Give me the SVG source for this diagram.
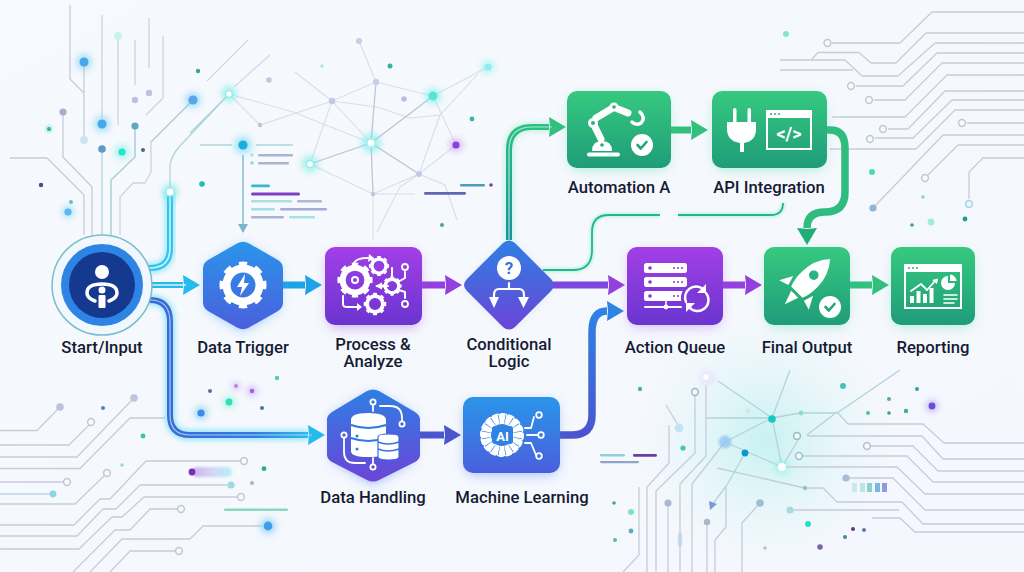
<svg xmlns="http://www.w3.org/2000/svg" width="1024" height="572" viewBox="0 0 1024 572">
<style>
.lbl{font-family:Roboto,"Liberation Sans",sans-serif;font-weight:500;font-size:16.7px;fill:#151b33;text-anchor:middle}
.ic{font-family:Roboto,"Liberation Sans",sans-serif;font-weight:700;text-anchor:middle}
.c{fill:none;stroke:#c6ccda;stroke-width:1.3;stroke-linejoin:round}
.t{fill:none;stroke:#b2d4dc;stroke-width:1.3}
.n{fill:none;stroke:#d8deeb;stroke-width:1.1}
.n2{fill:none;stroke:#c0c4da;stroke-width:1.3}
.ring{fill:#f6f9fe;stroke:#c0c8d6;stroke-width:1.5}
.w{fill:#fff}
.ws{fill:none;stroke:#fff;stroke-linecap:round;stroke-linejoin:round}
.conn{fill:none}
</style>
<defs>
<linearGradient id="bg" x1="0" y1="0" x2="1" y2="1"><stop offset="0" stop-color="#f6f9fd"/><stop offset="1" stop-color="#f4f7fd"/></linearGradient>
<linearGradient id="gB" x1="0" y1="0" x2="0" y2="1"><stop offset="0" stop-color="#2a95ea"/><stop offset="1" stop-color="#4a5fdc"/></linearGradient>
<linearGradient id="gP" x1="0" y1="0" x2="0" y2="1"><stop offset="0" stop-color="#a23fe6"/><stop offset="1" stop-color="#6a35cf"/></linearGradient>
<linearGradient id="gG" x1="0" y1="0" x2="0" y2="1"><stop offset="0" stop-color="#36c97f"/><stop offset="1" stop-color="#1f9c79"/></linearGradient>
<linearGradient id="gD" x1="0" y1="0" x2="0" y2="1"><stop offset="0" stop-color="#2f7fe4"/><stop offset="1" stop-color="#6a45d6"/></linearGradient>
<linearGradient id="gDown" gradientUnits="userSpaceOnUse" x1="170" y1="0" x2="315" y2="0"><stop offset="0" stop-color="#3a6ad6"/><stop offset="0.6" stop-color="#2f7fe0"/><stop offset="1" stop-color="#2cc3ee"/></linearGradient>
<linearGradient id="gML" gradientUnits="userSpaceOnUse" x1="0" y1="435" x2="0" y2="310"><stop offset="0" stop-color="#4a55cf"/><stop offset="1" stop-color="#2f83e4"/></linearGradient>
<linearGradient id="gUp" gradientUnits="userSpaceOnUse" x1="0" y1="240" x2="0" y2="127"><stop offset="0" stop-color="#1b8f9f"/><stop offset="1" stop-color="#2cc081"/></linearGradient>
<linearGradient id="gStream" x1="0" y1="0" x2="1" y2="0"><stop offset="0" stop-color="#c99bf0"/><stop offset="0.5" stop-color="#c8d0f4"/><stop offset="1" stop-color="#a8ecf2"/></linearGradient>
<radialGradient id="gTeal"><stop offset="0" stop-color="#7ce8dc" stop-opacity=".38"/><stop offset="0.6" stop-color="#a8f0e8" stop-opacity=".16"/><stop offset="1" stop-color="#c0f4ec" stop-opacity="0"/></radialGradient>
<filter id="b1" x="-50%" y="-50%" width="200%" height="200%"><feGaussianBlur stdDeviation="1.2"/></filter>
<filter id="b3" x="-100%" y="-100%" width="300%" height="300%"><feGaussianBlur stdDeviation="3"/></filter>
<filter id="b6" x="-40%" y="-40%" width="180%" height="180%"><feGaussianBlur stdDeviation="6"/></filter>
<filter id="gl" x="-20%" y="-20%" width="140%" height="140%"><feGaussianBlur stdDeviation="2.5"/></filter>
<marker id="mB" markerUnits="userSpaceOnUse" markerWidth="18" markerHeight="22" refX="0" refY="11" orient="auto"><path d="M0,1 L17,11 L0,21 L1,11Z" fill="#1ea3e8"/></marker>
<marker id="mC" markerUnits="userSpaceOnUse" markerWidth="18" markerHeight="22" refX="0" refY="11" orient="auto"><path d="M0,1 L17,11 L0,21 L1,11Z" fill="#25bbec"/></marker>
<marker id="mP" markerUnits="userSpaceOnUse" markerWidth="18" markerHeight="22" refX="0" refY="11" orient="auto"><path d="M0,1 L17,11 L0,21 L1,11Z" fill="#9340de"/></marker>
<marker id="mG" markerUnits="userSpaceOnUse" markerWidth="18" markerHeight="22" refX="0" refY="11" orient="auto"><path d="M0,1 L17,11 L0,21 L1,11Z" fill="#31c07e"/></marker>
<marker id="mG2" markerUnits="userSpaceOnUse" markerWidth="18" markerHeight="22" refX="0" refY="11" orient="auto"><path d="M0,1 L17,11 L0,21 L1,11Z" fill="#20ad78"/></marker>
<marker id="mI" markerUnits="userSpaceOnUse" markerWidth="18" markerHeight="22" refX="0" refY="11" orient="auto"><path d="M0,1 L17,11 L0,21 L1,11Z" fill="#4a55d0"/></marker>
<marker id="mU" markerUnits="userSpaceOnUse" markerWidth="18" markerHeight="22" refX="0" refY="11" orient="auto"><path d="M0,1 L17,11 L0,21 L1,11Z" fill="#2f83e4"/></marker>
<g id="gear"><circle r="16.5" fill="none" stroke="#fff" stroke-width="8"/><circle r="21" fill="none" stroke="#fff" stroke-width="5" pathLength="16" stroke-dasharray="1 1" stroke-dashoffset=".5"/></g>
<path id="chk" d="M-4.5,0 L-1.2,3.5 L4.5,-3" fill="none" stroke-width="2.6" stroke-linecap="round" stroke-linejoin="round"/>
<g id="server"><rect x="0" y="0" width="43" height="10" rx="2.5" fill="#fff"/><circle cx="6" cy="5" r="1.8" fill="#7a37d6"/><circle cx="30" cy="5" r="1" fill="#7a37d6"/><circle cx="34" cy="5" r="1" fill="#7a37d6"/><circle cx="38" cy="5" r="1" fill="#7a37d6"/></g>
</defs>

<rect width="1024" height="572" fill="url(#bg)"/>
<g id="background">
<circle cx="765" cy="440" r="125" fill="url(#gTeal)"/>
<!-- top-left circuit -->
<path class="c" d="M70,5V79L84,93M84,62V140M63,112V157L92,187V235M10,158H47L84,195V235M135,126V157L111,180V235"/>
<path class="t" d="M135,126V157L111,180V235M102,149V235"/>
<path class="c" d="M102,15V118M118,36V125M135,40V85M149,18V68M163,36V98L146,115M193,100L151,142V172L145,183H133L120,197V235" opacity=".85"/>
<path class="t" d="M193,100L151,142"/>
<path class="t" d="M170,190V165Q172,155 179,147L229,94M190,133L229,94"/>
<g id="tl-dots">
<circle cx="84" cy="62" r="8" fill="#5ec9f3" opacity=".5" filter="url(#b3)"/><circle cx="84" cy="62" r="4.5" fill="#4aa6ea"/>
<circle cx="102" cy="124" r="8" fill="#5ec9f3" opacity=".5" filter="url(#b3)"/><circle cx="102" cy="124" r="4.5" fill="#4aa6ea"/>
<circle cx="84" cy="140" r="4" fill="#c9e6f0"/><circle cx="118" cy="36" r="4" fill="#c4f4f2"/>
<circle cx="135" cy="100" r="3.2" fill="#bcc2de"/><circle cx="149" cy="93" r="3.2" fill="#bcc2de"/>
<circle cx="63" cy="112" r="3.6" fill="#a9aed0"/><circle cx="135" cy="126" r="3.6" fill="#5ea9c4"/><circle cx="102" cy="149" r="3.8" fill="#5b9cc6"/>
<circle cx="193" cy="100" r="8" fill="#5ec9f3" opacity=".5" filter="url(#b3)"/><circle cx="193" cy="100" r="4.6" fill="#58a6ec"/>
<circle cx="49" cy="129" r="4" fill="#6be3c8" opacity=".4" filter="url(#b1)"/><circle cx="49" cy="129" r="2" fill="#2bb69a"/>
<circle cx="122" cy="152" r="7" fill="#5be9da" opacity=".5" filter="url(#b3)"/><circle cx="122" cy="152" r="3.6" fill="#1ee6cf"/>
<circle cx="143" cy="150" r="2" fill="#3e6a90"/><circle cx="41" cy="185" r="2.2" fill="#4d4a85"/><circle cx="198" cy="71" r="2.2" fill="#3ea39e"/><circle cx="202" cy="184" r="2.8" fill="#1fbcb4"/>
<circle cx="71" cy="202" r="2" fill="#5cc4c4"/><circle cx="68" cy="212" r="6" fill="#5cc4f3" opacity=".5" filter="url(#b3)"/><circle cx="68" cy="212" r="3.6" fill="#5bb6ee"/>
<circle cx="277" cy="378" r="2.2" fill="#4fd0ad"/>
</g>
<!-- network -->
<path class="n" d="M229,94L293,112L371,143M229,94L260,125L332,101L376,82L433,96L488,67M332,101L371,143M332,101L310,164L373,194L419,174M295,72L332,101M359,41L376,82M433,96L456,145L419,174L440,115M332,101L377,107L410,118L440,115L478,74M373,194L415,194M373,194V240M419,174L445,185L457,220M419,174L400,187L377,232"/>
<path class="n2" d="M376,82L371,143L433,96M310,164L371,143L419,174M371,143L373,194"/>
<path class="c" d="M207,81L248,40M234,87L270,55" opacity=".7"/>
<path class="t" d="M200,145H232M256,145H293"/>
<path d="M243,155V226" stroke="#7fb8cc" stroke-width="1.4" fill="none"/><path d="M238,224H248L243,233Z" fill="#78b4cc"/>
<g id="net-dots">
<circle cx="229" cy="94" r="8" fill="#5be9e6" opacity=".5" filter="url(#b3)"/><circle cx="229" cy="94" r="3.4" fill="#fff" stroke="#8df0ea" stroke-width="1.5"/>
<circle cx="260" cy="125" r="2.2" fill="#bcc4d8"/><circle cx="332" cy="101" r="3.2" fill="#c0c9e6"/><circle cx="376" cy="82" r="3.2" fill="#c8cfe4"/>
<circle cx="433" cy="96" r="8" fill="#55ece0" opacity=".5" filter="url(#b3)"/><circle cx="433" cy="96" r="4.4" fill="#55e4d8"/>
<circle cx="488" cy="67" r="7" fill="#6cf0ea" opacity=".45" filter="url(#b3)"/><circle cx="488" cy="67" r="3.6" fill="#8cf0ea"/>
<circle cx="371" cy="143" r="10" fill="#55ece8" opacity=".5" filter="url(#b3)"/><circle cx="371" cy="143" r="4" fill="#fff" stroke="#9ff5ee" stroke-width="1.5"/>
<circle cx="310" cy="164" r="9" fill="#55ece0" opacity=".45" filter="url(#b3)"/><circle cx="310" cy="164" r="3.6" fill="#fff" stroke="#8cf0e4" stroke-width="1.5"/>
<circle cx="456" cy="145" r="7" fill="#b46cf0" opacity=".4" filter="url(#b3)"/><circle cx="456" cy="145" r="3.6" fill="#8d3fd8"/>
<circle cx="419" cy="174" r="3" fill="#c0cde6"/><circle cx="373" cy="194" r="2.2" fill="#c0c8e0"/><circle cx="359" cy="41" r="3" fill="#c8cfe4"/>
<circle cx="269" cy="80" r="2.8" fill="#c4c8e4"/><circle cx="322" cy="66" r="1.8" fill="#b5e2e0"/><circle cx="390" cy="66" r="2.5" fill="#38b1a6"/><circle cx="404" cy="99" r="2.8" fill="#bdbde2"/><circle cx="472" cy="119" r="2.4" fill="#38b6ac"/><circle cx="442" cy="225" r="2" fill="#3ea99e"/>
<circle cx="243" cy="145" r="9" fill="#55d2f4" opacity=".5" filter="url(#b3)"/><circle cx="243" cy="145" r="4.6" fill="#19aee0"/>
<circle cx="252" cy="155" r="1.8" fill="#a9e8d8"/><circle cx="252" cy="163" r="1.8" fill="#9ed0dc"/>
<circle cx="491" cy="185" r="1.8" fill="#7a3f98"/>
</g>
<g id="code-bars">
<rect x="258" y="154" width="35" height="2.6" rx="1.3" fill="#aab4d2"/><rect x="258" y="162" width="31" height="2.6" rx="1.3" fill="#aab4d2"/>
<rect x="251" y="184.5" width="19" height="2.8" rx="1.4" fill="#37b9cf"/><rect x="251" y="192.5" width="49" height="3" rx="1.5" fill="#7c3fc4"/>
<rect x="251" y="200" width="41" height="2.4" rx="1.2" fill="#a6e2e2"/><rect x="297" y="200" width="25" height="2.4" rx="1.2" fill="#aeb8d6"/>
<rect x="251" y="208" width="24" height="2.4" rx="1.2" fill="#a0e0e2"/><rect x="280" y="208" width="47" height="2.4" rx="1.2" fill="#a4aed4"/>
<rect x="251" y="216" width="33" height="2.4" rx="1.2" fill="#aab4d2"/><rect x="289" y="216" width="26" height="2.4" rx="1.2" fill="#a6e2e2"/>
<rect x="460" y="184" width="25" height="2.6" rx="1.3" fill="#4a9cc0"/><rect x="424" y="192" width="42" height="2.8" rx="1.4" fill="#6266b0"/>
<rect x="600" y="454" width="25" height="2.4" rx="1.2" fill="#8fd0dc"/><rect x="633" y="454" width="24" height="2.8" rx="1.4" fill="#6a3fa4"/><rect x="600" y="461" width="39" height="2.2" rx="1.1" fill="#8fa6c8"/>
</g>
<!-- top-right circuit -->
<path class="c" d="M832,43H900L932,12H1024M812,59L818,52.5H859L871,63H896L926,33H1024M780,60H845L862,76H898L935,43H1024M780,70H853M856,86H903L937,53H1024M874,100H905L942,63H1024M832,117H905L947,75H1024M888,129H908L945,91H1024M875,138H913L952,100H1024M830,149H916L955,110H1024M967,123H1024M873,208L943,135H1024M928,175L958,145H1024M969,199V172L983,158H1024"/>
<circle class="ring" cx="827.5" cy="43" r="3.4"/><circle class="ring" cx="851" cy="86" r="3.4"/><circle class="ring" cx="869" cy="100" r="3.4"/><circle class="ring" cx="883" cy="129" r="3.4"/><circle class="ring" cx="870" cy="139" r="3.4"/><circle class="ring" cx="962" cy="123" r="3.4"/><circle class="ring" cx="925" cy="178" r="3.4"/>
<circle cx="969" cy="204" r="3.4" fill="#f0f8fe" stroke="#a4d8ea" stroke-width="1.6"/>
<circle cx="873" cy="208" r="3.6" fill="#90b4dc"/>
<circle cx="786" cy="34" r="3" fill="#7fe8c8"/><circle cx="872" cy="172" r="3" fill="#4fd9b4"/><circle cx="923" cy="197" r="1.8" fill="#8fd4d0"/><circle cx="912" cy="225" r="1.8" fill="#3d9e86"/><circle cx="931" cy="222" r="3.4" fill="#a4ecd4"/><circle cx="965" cy="219" r="2.4" fill="#1f9a90"/>
<!-- bottom-left circuit -->
<path class="c" d="M0,430.5H37L58,409M0,445H69L89,425M0,457H77L132,400M0,468.5H80L130,418H165M0,482H63M0,504H75L104,476M0,525H74L100,499H110L146,461H240M0,536H77L103,509H116L140,485H227M0,549H79L112,517H122L144,497H237M73,572L115,530H130L150,509H177M90,572L122,539H190L203,526H262M110,572L130,551H175"/>
<path d="M0,494H50" stroke="#bdd4e0" stroke-width="1.4" fill="none"/>
<circle cx="60" cy="407" r="3.8" fill="#bcc2de"/><circle cx="134" cy="398" r="3.8" fill="#bcc4de"/>
<circle class="ring" cx="91" cy="422" r="3.4"/><circle class="ring" cx="67" cy="482" r="3.4"/><circle class="ring" cx="107" cy="473" r="3.4"/><circle class="ring" cx="244" cy="461" r="3.4"/><circle class="ring" cx="241" cy="497" r="3.4"/><circle class="ring" cx="181" cy="509" r="3.4"/><circle class="ring" cx="179" cy="551" r="3.4"/>
<circle cx="53" cy="494" r="3.4" fill="#8fd4e4"/><circle cx="231" cy="485" r="3.6" fill="#9cdce0"/>
<circle cx="268" cy="526" r="8" fill="#55c0f0" opacity=".5" filter="url(#b3)"/><circle cx="268" cy="526" r="4.4" fill="#3f9cea"/>
<rect x="224" y="508.5" width="64" height="2.4" rx="1.2" fill="#8cd6c2"/>
<rect x="192" y="467" width="40" height="10" rx="5" fill="url(#gStream)" filter="url(#b1)" opacity=".8"/><circle cx="192" cy="472" r="3.4" fill="#7d2cb6"/>
<circle cx="143" cy="436" r="2.4" fill="#3cc29a"/><circle cx="122" cy="465" r="1.8" fill="#96d8d8"/><circle cx="103" cy="408" r="2" fill="#4d87a8"/><circle cx="264" cy="468.7" r="2.4" fill="#2fa69a"/><circle cx="252" cy="483" r="2" fill="#a8b4c4"/>
<circle cx="201" cy="413" r="7" fill="#55c0f0" opacity=".5" filter="url(#b3)"/><circle cx="201" cy="413" r="3.6" fill="#3a8ae6"/>
<circle cx="229" cy="402" r="6" fill="#55eecb" opacity=".5" filter="url(#b3)"/><circle cx="229" cy="402" r="3.4" fill="#2ce2b4"/>
<circle cx="252" cy="391" r="5" fill="#b46cf0" opacity=".45" filter="url(#b3)"/><circle cx="252" cy="391" r="2.2" fill="#9e63d6"/>
<circle cx="236" cy="386" r="4.5" fill="#b46cf0" opacity=".35" filter="url(#b3)"/><circle cx="236" cy="386" r="2" fill="#b48ae0"/>
<circle cx="210" cy="391" r="2" fill="#6a6a94"/><circle cx="262" cy="408" r="2" fill="#3e7a9e"/>
<!-- bottom-right circuit -->
<path class="t" d="M706,418H772M725,442L772,418L790,370M772,418L782,467M725,442L782,467M745,453L727,485L712,505M718,381L772,418M772,418L800,413H837L900,370M807,435L837,412"/>
<path class="c" d="M837,412L848,424H923L944,443H1024M807,436H922L943,459H1024M871,446H913L938,471H1024M803,456H907L933,482H1024M782,467H897L925,494H1024M846,478H893L925,510H1024M717,468L805,488H823L837,502H902L923,524H1024M790,510H899M872,518H900L915,532H1024M695,396V453L656,491V572M706,385V456L680,484V572M725,442L692,484V572M782,467L798,440M666,405L678,425M669,425V463L647,487V572M639,487V555L623,572M668,503V572M707,522V572M726,487V527L715,540V572M760,503L742,523V572"/>
<circle cx="707" cy="378" r="8" fill="#e6dcfa" opacity=".6" filter="url(#b3)"/><circle cx="706" cy="377" r="2.8" fill="#fff"/>
<circle cx="695" cy="392" r="3.4" fill="#f0f6fb" stroke="#a8b4c0" stroke-width="1.5"/>
<circle cx="679" cy="428" r="4.4" fill="#c0e4f2"/><circle cx="683" cy="448" r="2.6" fill="#3ec8a8"/>
<circle cx="725" cy="442" r="6.5" fill="#8cc4f4" opacity=".75" filter="url(#b1)"/><circle cx="745" cy="453" r="3.4" fill="#0a97d0"/><circle cx="772" cy="419" r="3.8" fill="#14c9bf"/>
<circle cx="782" cy="467" r="7" fill="#6cf0e0" opacity=".5" filter="url(#b3)"/><circle cx="782" cy="467" r="4" fill="#fff"/>
<circle cx="748" cy="411" r="2.4" fill="#d8e0ee"/>
<circle cx="801" cy="413" r="2.4" fill="#8cdcd4"/><circle cx="797" cy="436" r="3.4" fill="#f4f9fb" stroke="#9cb8bc" stroke-width="1.5"/><circle cx="799" cy="456" r="3.4" fill="#f4f9fb" stroke="#9cc4c4" stroke-width="1.5"/><circle cx="867" cy="446" r="3.4" fill="#f4f9fb" stroke="#b8c0d0" stroke-width="1.5"/>
<circle cx="846" cy="478" r="3.6" fill="#a8bcd8"/><circle cx="805" cy="488" r="2.2" fill="#9cc0c8"/><circle cx="790" cy="510" r="3.6" fill="#acd8dc"/>
<circle cx="668" cy="503" r="3.6" fill="#aab8d0"/><circle cx="707" cy="522" r="3.2" fill="#a8b8c8"/><circle cx="760" cy="503" r="3.8" fill="#9cc0d0"/>
<path d="M709,501L717,504L710,510Z" fill="#7c98d8"/>
<rect x="678.5" y="533" width="3" height="13" fill="#b4d0ec" filter="url(#b1)"/>
<rect x="852" y="483" width="5" height="9" fill="#cde6f0"/><rect x="860" y="483" width="5" height="9" fill="#b8e6e6"/><rect x="867" y="483" width="5" height="9" fill="#84d4d4"/><rect x="875" y="483" width="5" height="9" fill="#78b8e0"/><rect x="882" y="483" width="5" height="9" fill="#8c9cdc"/>
<circle cx="640" cy="389" r="2.2" fill="#3cbaa8"/><circle cx="843" cy="386" r="3" fill="#3cc8b8"/><circle cx="917" cy="389" r="2" fill="#3c9e98"/><circle cx="889" cy="399" r="2" fill="#4cb498"/><circle cx="868" cy="413" r="2" fill="#4cc0a4"/><circle cx="889" cy="413" r="1.8" fill="#3c9c90"/><circle cx="906" cy="411" r="2.2" fill="#36b098"/>
<circle cx="932" cy="406" r="6" fill="#8c6cf0" opacity=".45" filter="url(#b3)"/><circle cx="932" cy="406" r="3.4" fill="#6a4cd8"/>
<circle cx="631" cy="512" r="3" fill="#7ce4c4"/><circle cx="614" cy="503" r="1.8" fill="#3cac94"/><circle cx="631" cy="531" r="2.4" fill="#54aebc"/><circle cx="615" cy="540" r="2" fill="#4cc0b0"/>
<circle cx="808" cy="524" r="3" fill="#28e0c4"/><circle cx="853" cy="529" r="2" fill="#5c3c8c"/><circle cx="864" cy="530" r="2" fill="#5c7cb0"/><circle cx="845" cy="537" r="2" fill="#3c8ca0"/><circle cx="820" cy="547" r="2.8" fill="#7c64a8"/><circle cx="765" cy="548" r="1.8" fill="#b8c0cc"/>
</g>

<g id="connectors" class="conn" stroke-linejoin="round">
<!-- Start up -->
<path d="M142,268H150Q170,268 170,248V192" stroke="#55dcf5" stroke-width="11" opacity=".5" fill="none" filter="url(#gl)"/>
<path d="M142,268H150Q170,268 170,248V192" stroke="#33c4ee" stroke-width="6" fill="none"/>
<path d="M142,268H150Q170,268 170,248V192" stroke="#c8f4fb" stroke-width="1.6" fill="none"/>
<circle cx="170" cy="192" r="8" fill="#55e4ee" opacity=".55" filter="url(#b3)"/><circle cx="170" cy="192" r="4" fill="#fff" stroke="#9ff0f0" stroke-width="1.5"/>
<!-- Start to trigger -->
<path d="M143,285H183" stroke="#55dcf5" stroke-width="10" opacity=".4" fill="none" filter="url(#gl)"/>
<path d="M143,285H183" stroke="#25bbec" stroke-width="6" fill="none" marker-end="url(#mC)"/>
<path d="M143,285H186" stroke="#d8f6fb" stroke-width="1.6" fill="none"/>
<!-- Start down -->
<path d="M143,300H150Q170,300 170,322V415Q170,435 190,435H308" stroke="#55dcf5" stroke-width="11" opacity=".55" fill="none" filter="url(#gl)"/>
<path d="M143,300H150Q170,300 170,322V415Q170,435 190,435H308" stroke="url(#gDown)" stroke-width="6" fill="none" marker-end="url(#mC)"/>
<path d="M143,300H150Q170,300 170,322V415Q170,435 190,435H312" stroke="#bfe4fa" stroke-width="1.2" fill="none" opacity=".8"/>
<!-- main -->
<path id="e-dt-pa" d="M283,285H305" stroke="#1ea3e8" stroke-width="7" fill="none" marker-end="url(#mB)"/>
<path id="e-pa-cl" d="M422,285H445" stroke="#9340de" stroke-width="7" fill="none" marker-end="url(#mP)"/>
<path id="e-cl-aq" d="M553,285H608" stroke="#7d46de" stroke-width="7" fill="none" marker-end="url(#mP)"/>
<path id="e-cl-au-glow" d="M509,240V150Q509,127 532,127H549" stroke="#6fe8c8" stroke-width="10" opacity=".35" fill="none" filter="url(#gl)"/>
<path id="e-cl-au" d="M509,240V150Q509,127 532,127H549" stroke="url(#gUp)" stroke-width="6" fill="none" marker-end="url(#mG)"/>
<path d="M509,240V150Q509,127 532,127H552" stroke="#c8f8ea" stroke-width="1.2" fill="none" opacity=".75"/>
<path d="M543,270H573Q592,270 592,250V232Q592,215 609,215H660M678,215H771Q783,215 783,203" stroke="#7ceec8" stroke-width="5" opacity=".4" fill="none" filter="url(#b1)"/>
<path id="e-cl-ai" d="M543,270H573Q592,270 592,250V232Q592,215 609,215H660M678,215H771Q783,215 783,203" stroke="#22b88a" stroke-width="1.8" fill="none"/>
<path id="e-au-ai" d="M671,130H691" stroke="#31c07e" stroke-width="7" fill="none" marker-end="url(#mG)"/>
<path id="e-ai-fo" d="M827,130H830Q845,130 845,148V192Q845,212 825,212Q807,212 807,228" stroke="#2fbc7e" stroke-width="7.5" fill="none" marker-end="url(#mG2)"/>
<path id="e-aq-fo" d="M723,285H745" stroke="#9340de" stroke-width="7" fill="none" marker-end="url(#mP)"/>
<path id="e-fo-re" d="M850,285H872" stroke="#31c07e" stroke-width="7" fill="none" marker-end="url(#mG)"/>
<path id="e-dh-ml" d="M420,435H444" stroke="#4a55d0" stroke-width="7" fill="none" marker-end="url(#mI)"/>
<path id="e-ml-aq" d="M560,435H572Q592,435 592,415V332Q592,311 607,311" stroke="url(#gML)" stroke-width="7.5" fill="none" marker-end="url(#mU)"/>
</g>

<g id="start">
<circle cx="102" cy="285" r="50" fill="#f0f7fd" stroke="#7dbccb" stroke-width="1.5"/>
<circle cx="102" cy="285" r="41" fill="#2e84e4"/>
<circle cx="102" cy="285" r="33" fill="#15398f"/>
<circle cx="102" cy="272" r="7" class="w"/>
<path class="ws" stroke-width="3.5" d="M95,301Q87,298 87,293Q87,284 102,284Q117,284 117,293Q117,298 109,301"/>
<circle cx="102" cy="290" r="3.5" class="w"/>
<rect x="98.5" y="295" width="7" height="13" rx="1" class="w"/>
<text class="lbl" x="102" y="353">Start/Input</text>
</g>

<g id="data-trigger">
<path d="M243,244L279,266V309L243,331L207,309V266Z" fill="#3f9cf4" opacity=".55" filter="url(#b6)"/>
<path d="M237,243.5Q243,240 249,243.5L278,260Q283,263 283,269V302Q283,308 278,311L249,327.5Q243,331 237,327.5L208,311Q203,308 203,302V269Q203,263 208,260Z" fill="url(#gB)"/>
<use href="#gear" transform="translate(243,285)"/>
<path d="M245,274L237,287H242L240,296L249,283H244Z" fill="#fff"/>
<text class="lbl" x="243" y="353">Data Trigger</text>
</g>

<g id="process">
<rect x="327" y="252" width="93" height="76" rx="10" fill="#a85cf0" opacity=".45" filter="url(#b6)"/>
<rect x="325" y="247" width="97" height="78" rx="10" fill="url(#gP)"/>
<use href="#gear" transform="translate(355,280) scale(.75)"/>
<circle cx="355" cy="280" r="4" fill="#fff"/><circle cx="355" cy="280" r="2" fill="#8a3add"/>
<use href="#gear" transform="translate(379,266) scale(.43)"/>
<use href="#gear" transform="translate(375,304) scale(.48)"/>
<use href="#gear" transform="translate(392,286) scale(.41)"/>
<path class="ws" stroke-width="2" d="M354,263Q356,258 368,258M343,296V304Q343,307 347,307H358M377,286H388M392,268V276M405,272V278L398,282M405,298L405,292L399,290"/>
<path d="M369,254L374,258L368,262ZM357,303L362,307L357,311ZM382,282.5L375,286L382,289.5Z" fill="#fff"/>
<circle cx="405" cy="267" r="3" fill="none" stroke="#fff" stroke-width="1.8"/><circle cx="405" cy="304" r="3" fill="none" stroke="#fff" stroke-width="1.8"/>
<text class="lbl" x="373" y="350">Process &amp;</text><text class="lbl" x="373" y="367">Analyze</text>
</g>

<g id="conditional">
<path d="M509,246L549,285L509,326L469,285Z" fill="#5e7cf0" opacity=".4" filter="url(#b6)"/>
<path d="M503,243Q509,238 515,243L551,279Q557,285 551,291L515,327Q509,332 503,327L467,291Q461,285 467,279Z" fill="url(#gD)"/>
<circle cx="509" cy="268" r="12" class="w"/>
<text class="ic" x="509" y="274" font-size="17" fill="#3572d8">?</text>
<path class="ws" stroke-width="2.2" d="M509,283V289M509,289H499Q494,289 494,295V298M509,289H519Q524,289 524,295V298"/>
<path d="M489,297H499L494,308ZM518,297H529L523.5,308Z" fill="#fff"/>
<text class="lbl" x="509" y="350">Conditional</text><text class="lbl" x="509" y="367">Logic</text>
</g>

<g id="automation">
<rect x="569" y="96" width="100" height="74" rx="10" fill="#3ed69a" opacity=".35" filter="url(#b6)"/>
<rect x="567" y="91" width="104" height="77" rx="10" fill="url(#gG)"/>
<rect x="587" y="152.5" width="33" height="4" rx="2" class="w"/>
<path d="M592,151Q592,141 602,141Q612,141 612,151Z" class="w"/><circle cx="602" cy="145" r="1.8" fill="#27a87c"/>
<path class="ws" stroke-width="7" d="M593,123L601,139M596,118L611,109M618,109L628,113"/>
<circle cx="593" cy="123" r="5" fill="#fff"/><circle cx="593" cy="123" r="2" fill="#2bb080"/>
<circle cx="614" cy="107" r="4.5" fill="#fff"/><circle cx="614" cy="107" r="1.8" fill="#2bb080"/>
<path class="ws" stroke-width="3.5" d="M640,112Q646,118 641,123Q636,126 632,122"/>
<circle cx="642" cy="145" r="11" class="w"/><use href="#chk" transform="translate(642,145)" stroke="#25a57b"/>
<text class="lbl" x="619" y="193">Automation A</text>
</g>

<g id="api">
<rect x="714" y="96" width="111" height="74" rx="10" fill="#3ed69a" opacity=".35" filter="url(#b6)"/>
<rect x="712" y="91" width="115" height="77" rx="10" fill="url(#gG)"/>
<rect x="733" y="108" width="3.5" height="15" rx="1.7" class="w"/><rect x="747.5" y="108" width="3.5" height="15" rx="1.7" class="w"/>
<path d="M727,122H756V129Q756,141 744,143V152H740V143Q727,141 727,129Z" class="w"/>
<rect x="767" y="111" width="44" height="38" fill="none" stroke="#fff" stroke-width="2"/><rect x="766" y="110" width="46" height="8" class="w"/>
<circle cx="771" cy="114" r="1" fill="#2bb080"/><circle cx="775" cy="114" r="1" fill="#2bb080"/><circle cx="779" cy="114" r="1" fill="#2bb080"/>
<text class="ic" x="789" y="140" font-size="18" fill="#fff" font-weight="400">&lt;/&gt;</text>
<text class="lbl" x="769" y="193">API Integration</text>
</g>

<g id="action-queue">
<rect x="629" y="252" width="92" height="75" rx="10" fill="#a85cf0" opacity=".4" filter="url(#b6)"/>
<rect x="627" y="247" width="96" height="78" rx="10" fill="url(#gP)"/>
<use href="#server" x="644" y="263"/><use href="#server" x="644" y="277"/><use href="#server" x="644" y="291"/>
<path d="M666,301V307" stroke="#fff" stroke-width="1.5"/><path class="ws" stroke-width="2" d="M645,307H681"/><circle cx="666" cy="307" r="2.4" class="w"/>
<circle cx="696" cy="298" r="15" fill="#7f38d8"/>
<path class="ws" stroke-width="2.4" d="M686,302A11,11 0 0 1 703,289M706,293A11,11 0 0 1 689,307"/>
<path d="M706,284V293H697ZM686,312V303H695Z" fill="#fff"/>
<text class="lbl" x="675" y="353">Action Queue</text>
</g>

<g id="final-output">
<rect x="766" y="252" width="82" height="75" rx="10" fill="#3ed69a" opacity=".35" filter="url(#b6)"/>
<rect x="764" y="247" width="86" height="78" rx="10" fill="url(#gG)"/>
<g transform="translate(806,283) rotate(45)">
<path d="M0,-34Q11,-22 11,-5Q11,6 8,13H-8Q-11,6 -11,-5Q-11,-22 0,-34Z" class="w"/>
<circle cy="-11" r="4.8" fill="#2bb381"/>
<path d="M-14,4L-21,17L-11,14ZM14,4L21,17L11,14Z" class="w"/>
<path d="M-5,16H5L0,30Z" class="w"/>
</g>
<circle cx="830" cy="307" r="13" fill="#27a87c"/><circle cx="830" cy="307" r="11" class="w"/><use href="#chk" transform="translate(830,307)" stroke="#25a57b"/>
<text class="lbl" x="807" y="353">Final Output</text>
</g>

<g id="reporting">
<rect x="893" y="252" width="80" height="75" rx="10" fill="#3ed69a" opacity=".35" filter="url(#b6)"/>
<rect x="891" y="247" width="84" height="78" rx="10" fill="url(#gG)"/>
<rect x="905" y="265" width="56" height="43" fill="none" stroke="#fff" stroke-width="2"/><rect x="904" y="264" width="58" height="8" class="w"/>
<circle cx="909" cy="268" r="1" fill="#2bb080"/><circle cx="913" cy="268" r="1" fill="#2bb080"/><circle cx="917" cy="268" r="1" fill="#2bb080"/>
<rect x="910" y="296" width="4" height="7" class="w"/><rect x="916.5" y="291" width="4" height="12" class="w"/><rect x="923" y="294" width="4" height="9" class="w"/><rect x="929.5" y="288" width="4" height="15" class="w"/>
<path class="ws" stroke-width="1.8" d="M911,291L921,284L927,290L935,281"/><path d="M932,280L938,278.5L937,284Z" fill="#fff"/>
<path d="M948,276A7,7 0 1 0 955,283H948Z" class="w"/><path d="M950,274.5A7,7 0 0 1 956.5,281H950Z" class="w"/>
<path class="ws" stroke-width="1.6" d="M944,295H957M944,299H957M944,303H954"/>
<text class="lbl" x="933" y="353">Reporting</text>
</g>

<g id="data-handling">
<path d="M373,393L414,415V460L373,484L333,460V415Z" fill="#4c7cf4" opacity=".55" filter="url(#b6)"/>
<path d="M367,391Q373,388 379,391L415,412Q420,415 420,420V455Q420,459 415,462L379,480Q373,483 367,480L332,462Q327,459 327,455V420Q327,415 332,412Z" fill="url(#gD)"/>
<path d="M351,420Q351,413 368,413Q386,413 386,420V451Q386,457 368,457Q351,457 351,451Z" class="w"/>
<path d="M351,425Q368,431 386,425M351,438Q368,444 386,438" fill="none" stroke="#2f7bdc" stroke-width="2"/>
<circle cx="357" cy="436" r="1.5" fill="#2f7bdc"/><circle cx="357" cy="449" r="1.5" fill="#2f7bdc"/>
<path d="M378,437Q378,434 388.5,434Q399,434 399,437V457Q399,460 388.5,460Q378,460 378,457Z" class="w" stroke="#3a70dc" stroke-width="1.2"/>
<path d="M378,442Q388,446 399,442M378,449Q388,453 399,449" fill="none" stroke="#3a70dc" stroke-width="1.5"/>
<path class="ws" stroke-width="1.8" d="M373,405V411M380,406H390Q402,406 402,418V421M344,438V452Q344,463 355,463H365M373,458V464"/>
<g fill="none" stroke="#fff" stroke-width="1.8"><circle cx="373" cy="402" r="2.6"/><circle cx="402" cy="424" r="2.6"/><circle cx="344" cy="435" r="2.6"/><circle cx="373" cy="467" r="2.6"/></g>
<text class="lbl" x="373" y="503">Data Handling</text>
</g>

<g id="machine-learning">
<rect x="465" y="402" width="93" height="73" rx="10" fill="#4c7cf4" opacity=".45" filter="url(#b6)"/>
<rect x="463" y="397" width="97" height="76" rx="10" fill="url(#gB)"/>
<circle cx="502" cy="435" r="19" fill="none" stroke="#fff" stroke-width="6" stroke-linecap="round" pathLength="16" stroke-dasharray=".35 .65"/>
<circle cx="502" cy="435" r="14" fill="none" stroke="#fff" stroke-width="6"/>
<circle cx="502" cy="435" r="16" fill="none" stroke="#2f7fe4" stroke-width="9" pathLength="16" stroke-dasharray=".1 .9" stroke-dashoffset=".55"/>
<rect x="492" y="426" width="21" height="18" rx="3" fill="#2f83e4"/>
<text class="ic" x="502.500" y="441" font-size="13" fill="#fff">AI</text>
<path class="ws" stroke-width="1.8" d="M525,428H531L534,417M527,435H537M525,443H531L536,455"/>
<g fill="none" stroke="#fff" stroke-width="1.8"><circle cx="539" cy="415" r="2.8"/><circle cx="541" cy="435" r="2.8"/><circle cx="539" cy="456" r="2.8"/></g>
<text class="lbl" x="522" y="503">Machine Learning</text>
</g>
</svg>
